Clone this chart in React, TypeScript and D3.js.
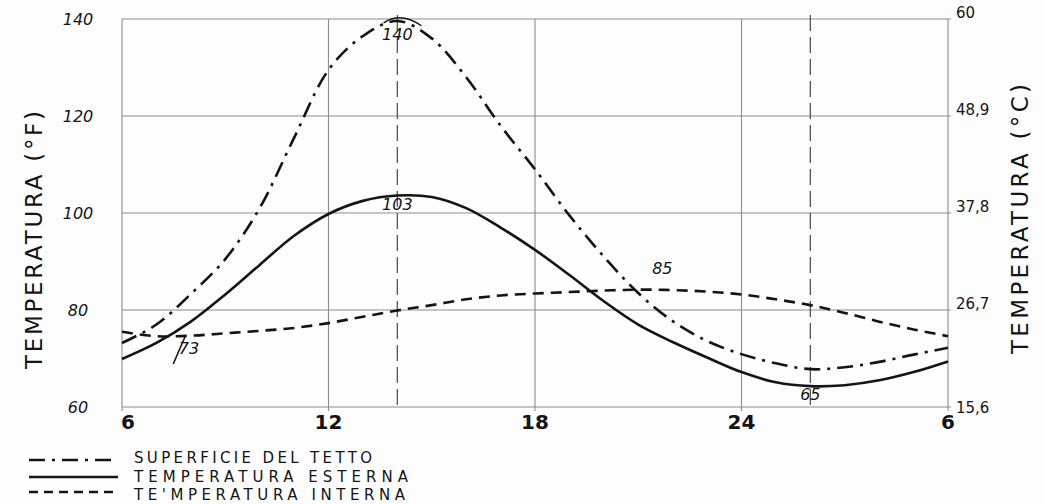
import React from "react";
import * as d3 from "d3";

const hours = [6,7,8,9,10,11,12,13,14,15,16,17,18,19,20,21,22,23,24,25,26,27,28,29,30];
const roofSurface = [73.2,77,83.3,90.5,101,115.5,129.5,136.5,139.6,136,128,118,109,99.5,91,83.5,77.7,73.6,70.9,69,67.8,68.2,69.3,70.8,72.2];
const outsideTemp = [69.9,73.2,77.6,83.2,89.3,95.3,99.8,102.5,103.6,103.3,101,97,92.4,87.2,81.8,77,73.4,70.2,67.2,65.1,64.3,64.5,65.5,67.2,69.4];
const insideTemp = [75.5,74.6,74.7,75.2,75.7,76.3,77.3,78.6,79.9,81,82.2,83,83.4,83.7,84,84.2,84.1,83.8,83.2,82.2,81,79.4,77.6,76,74.6];

const xTicks = [6,12,18,24,30];
const xTickLabels = ["6","12","18","24","6"];
const yTicksF = [60,80,100,120,140];
const yTickLabelsC = ["15,6","26,7","37,8","48,9","60"];
const solidGridHours = [12,18,24];
const dashedGridHours = [14,26];

const legendItems = [
  { label: "SUPERFICIE DEL TETTO", dash: "16,7,3,7", len: 238 },
  { label: "TEMPERATURA ESTERNA", dash: "", len: 274 },
  { label: "TE'MPERATURA INTERNA", dash: "9,6", len: 271 },
];

export default function App() {
  const W = 1044, H = 504;
  const x = d3.scaleLinear().domain([6, 30]).range([122, 948]);
  const y = d3.scaleLinear().domain([60, 140]).range([407, 19]);
  const line = (vals: number[]) =>
    d3.line<number>().x((_, i) => x(hours[i])).y((d) => y(d)).curve(d3.curveCatmullRom.alpha(0.5))(vals) || "";

  const font = "'DejaVu Sans', sans-serif";
  const ink = "#141414";
  const grid = "#8d8d8d";

  return (
    <div style={{ position: "fixed", left: 0, top: 0, width: W, height: H, background: "#fff" }}>
      <svg width={W} height={H} style={{ display: "block" }}>
        <rect width={W} height={H} fill="#fdfdfd" />
        {yTicksF.map((t) => (
          <line key={"h" + t} x1={x(6)} x2={x(30) + 3} y1={y(t)} y2={y(t)} stroke={grid} strokeWidth={1.1} />
        ))}
        <line x1={x(6)} x2={x(6)} y1={y(140)} y2={y(60) + 4} stroke={grid} strokeWidth={1.1} />
        <line x1={x(30)} x2={x(30)} y1={y(140)} y2={y(60) + 4} stroke={grid} strokeWidth={1.1} />
        {solidGridHours.map((h) => (
          <line key={"v" + h} x1={x(h)} x2={x(h)} y1={y(140)} y2={y(60) + 4} stroke={grid} strokeWidth={1.1} />
        ))}
        {dashedGridHours.map((h) => (
          <line key={"d" + h} x1={x(h)} x2={x(h)} y1={y(140) - 4} y2={y(60) + 4} stroke="#555" strokeWidth={1.3} strokeDasharray="16,6" />
        ))}

        <path d={line(insideTemp)} fill="none" stroke={ink} strokeWidth={2.6} strokeDasharray="11,7" />
        <path d={line(roofSurface)} fill="none" stroke={ink} strokeWidth={2.6} strokeDasharray="16,7,3,7" />
        <path d={line(outsideTemp)} fill="none" stroke={ink} strokeWidth={2.6} />

        <text x={x(14)} y={40} textAnchor="middle" fontFamily={font} fontSize={16} fontStyle="italic" fill={ink}>140</text>
        <path d={`M${x(13.6)},${y(139.2)} Q${x(14.1)},${y(141.6)} ${x(14.7)},${y(138.6)}`} fill="none" stroke={ink} strokeWidth={1.4} />
        <text x={x(14)} y={y(103.6) + 14} textAnchor="middle" fontFamily={font} fontSize={16} fontStyle="italic" fill={ink}>103</text>
        <text x={x(21.7)} y={y(85) - 12} textAnchor="middle" fontFamily={font} fontSize={16} fontStyle="italic" fill={ink}>85</text>
        <text x={x(26)} y={y(64.3) + 14} textAnchor="middle" fontFamily={font} fontSize={16} fontStyle="italic" fill={ink}>65</text>
        <line x1={x(7.49)} y1={y(68.9)} x2={x(7.85)} y2={y(74.8)} stroke={ink} strokeWidth={1.5} />
        <text x={x(7.65)} y={y(70.9)} fontFamily={font} fontSize={16} fontStyle="italic" fill={ink}>73</text>

        {yTicksF.map((t) => (
          <text key={"l" + t} x={78} y={y(t) + 6} textAnchor="middle" fontFamily={font} fontSize={16} fontStyle="italic" fill={ink}>{t}</text>
        ))}
        {yTicksF.map((t, i) => (
          <text key={"r" + t} x={956} y={y(t) + (t === 60 ? 6 : -1)} fontFamily={font} fontSize={15} fill={ink}>{yTickLabelsC[i]}</text>
        ))}
        {xTicks.map((h, i) => (
          <text key={"b" + i} x={x(h) + (i === 0 ? 6 : 0)} y={429} textAnchor="middle" fontFamily={font} fontSize={20} fontWeight="bold" fill={ink}>{xTickLabels[i]}</text>
        ))}

        <text transform={`translate(42,240) rotate(-90)`} textAnchor="middle" fontFamily={font} fontSize={23} textLength={258} lengthAdjust="spacing" fill={ink}>TEMPERATURA (°F)</text>
        <text transform={`translate(1028,219) rotate(-90)`} textAnchor="middle" fontFamily={font} fontSize={23} textLength={270} lengthAdjust="spacing" fill={ink}>TEMPERATURA (°C)</text>

        {legendItems.map((it, i) => (
          <g key={"g" + i}>
            <line x1={29} x2={118} y1={[460, 477, 492][i]} y2={[460, 477, 492][i]} stroke={ink} strokeWidth={2.6} strokeDasharray={it.dash || undefined} />
            <text x={134} y={[463, 482, 500][i]} fontFamily={font} fontSize={15} textLength={it.len} lengthAdjust="spacing" fill={ink}>{it.label}</text>
          </g>
        ))}
      </svg>
    </div>
  );
}
